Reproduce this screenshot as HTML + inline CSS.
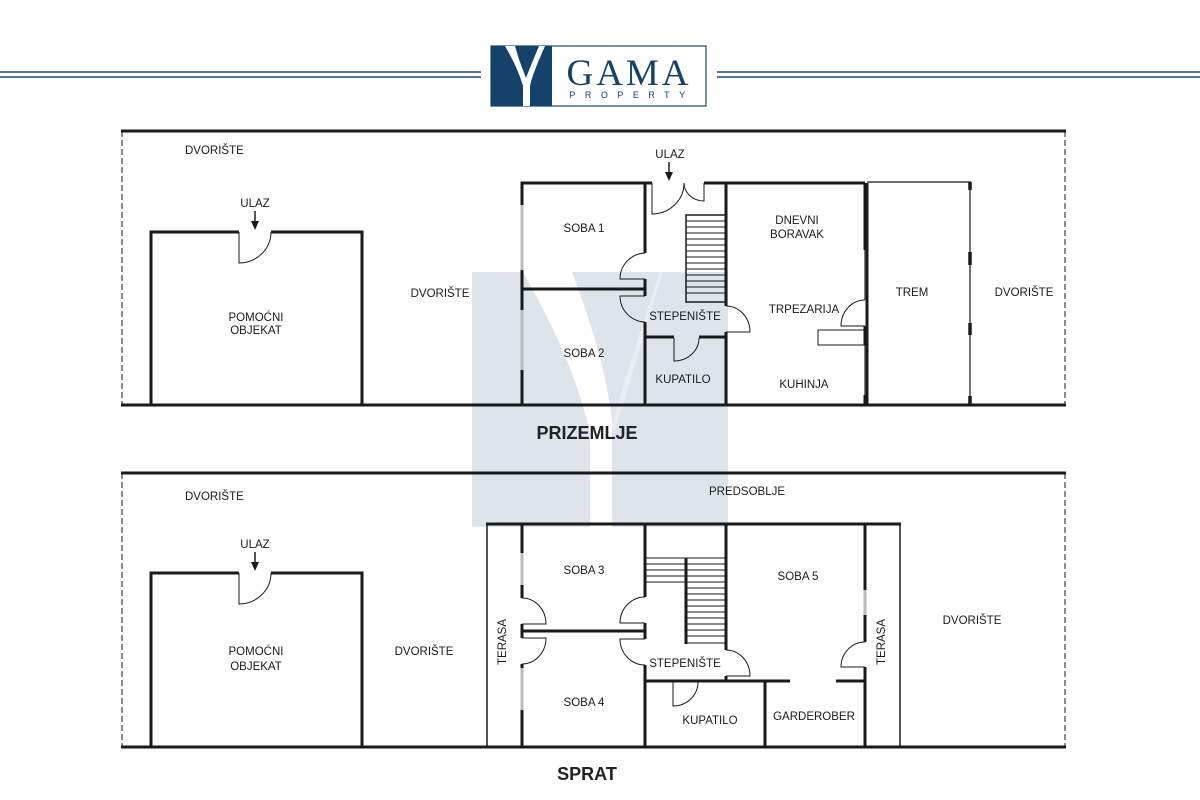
<!DOCTYPE html>
<html><head><meta charset="utf-8"><style>
html,body{margin:0;padding:0;background:#fff;width:1200px;height:800px;overflow:hidden}
svg{display:block}
text{font-family:"Liberation Sans","DejaVu Sans",sans-serif;fill:#1a1a1a}
</style></head><body>
<svg width="1200" height="800" viewBox="0 0 1200 800" xmlns="http://www.w3.org/2000/svg">
<g stroke="#1f4a6e" stroke-width="1.6">
<line x1="0" y1="72" x2="481" y2="72"/><line x1="0" y1="77" x2="481" y2="77"/>
<line x1="717" y1="72" x2="1200" y2="72"/><line x1="717" y1="77" x2="1200" y2="77"/>
</g>
<rect x="491" y="46" width="215" height="60" fill="#fff" stroke="#1f4a6e" stroke-width="1.2"/>
<rect x="491" y="46" width="61" height="60" fill="#14426b"/>
<path d="M505,46 L515,46 C520,64 524,72 526,78 C529,70 534,58 539,46 L545,46 C538,62 532,76 530,86 L530,106 L523,106 L523,86 C519,72 512,58 505,46 Z" fill="#fff"/>
<text x="629" y="85" text-anchor="middle" style="font-family:'Liberation Serif',serif;fill:#14426b" font-size="37" letter-spacing="3">GAMA</text>
<text x="632" y="98" text-anchor="middle" style="fill:#14426b" font-size="9" letter-spacing="9.5">PROPERTY</text>

<rect x="472" y="272" width="256" height="255" fill="#dfe4eb"/>
<path d="M523,272 L572,272 C590,320 606,370 612,420 L612,527 L590,527 L590,432 C575,370 550,320 523,272 Z" fill="#fff"/>
<path d="M612,425 C625,380 640,330 660,272 L663,272 C645,330 628,390 614,432 Z" fill="#fff" opacity="0.35"/>

<g fill="none" stroke="#1a1a1a">
<line x1="121" y1="131" x2="1066" y2="131" stroke-width="3"/>
<line x1="121" y1="405" x2="1066" y2="405" stroke-width="3"/>
<line x1="122" y1="131" x2="122" y2="405" stroke-width="1" stroke-dasharray="6,3"/>
<line x1="1065" y1="131" x2="1065" y2="405" stroke-width="1" stroke-dasharray="6,3"/>
<path d="M239,232 L151,232 L151,405 M362,405 L362,232 L271,232" stroke-width="3"/>
<path d="M239,232 L239,263 A32,31 0 0 0 271,232" stroke-width="1"/>
<path d="M652,183 L522,183 L522,405" stroke-width="3"/>
<path d="M704,183 L865,183" stroke-width="3"/>
<line x1="522" y1="205" x2="522" y2="270" stroke="#bbb" stroke-width="3"/>
<line x1="522" y1="310" x2="522" y2="370" stroke="#bbb" stroke-width="3"/>
<line x1="522" y1="289" x2="645" y2="289" stroke-width="3"/>
<path d="M645,183 L645,253 M645,279 L645,296 M645,322 L645,405" stroke-width="3"/>
<path d="M645,253 A26,26 0 0 0 620,279 L645,279" stroke-width="1"/>
<path d="M645,322 A26,26 0 0 1 620,296 L645,296" stroke-width="1"/>
<path d="M652,183 L652,214 A32,31 0 0 0 684,183" stroke-width="1"/>
<path d="M704,183 L704,201 A20,18 0 0 1 684,183" stroke-width="1"/>
<rect x="686" y="215" width="40" height="87" stroke-width="1.5"/>
<g stroke-width="1">
<line x1="686" y1="221" x2="726" y2="221"/><line x1="686" y1="227" x2="726" y2="227"/><line x1="686" y1="233" x2="726" y2="233"/><line x1="686" y1="239" x2="726" y2="239"/><line x1="686" y1="245" x2="726" y2="245"/><line x1="686" y1="251" x2="726" y2="251"/><line x1="686" y1="257" x2="726" y2="257"/><line x1="686" y1="263" x2="726" y2="263"/><line x1="686" y1="269" x2="726" y2="269"/><line x1="686" y1="275" x2="726" y2="275"/><line x1="686" y1="281" x2="726" y2="281"/><line x1="686" y1="287" x2="726" y2="287"/><line x1="686" y1="293" x2="726" y2="293"/>
</g>
<path d="M726,183 L726,306 M726,332 L726,405" stroke-width="3"/>
<path d="M726,306 A24,26 0 0 1 750,332 L726,332" stroke-width="1"/>
<path d="M645,337 L674,337 M699,337 L726,337" stroke-width="3"/>
<path d="M674,338 L674,361 A25,23 0 0 0 699,338" stroke-width="1"/>
<path d="M865,183 L865,250 M865,326 L865,345 M865,395 L865,405" stroke-width="3"/>
<line x1="865" y1="250" x2="865" y2="300" stroke="#555" stroke-width="1.5"/>
<line x1="865" y1="345" x2="865" y2="395" stroke="#555" stroke-width="1.5"/>
<path d="M865,300 A24,26 0 0 0 841,326 L865,326" stroke-width="1"/>
<rect x="818" y="330" width="47" height="15" stroke-width="1"/>
<line x1="867" y1="183" x2="867" y2="405" stroke-width="3"/>
<line x1="867" y1="182" x2="971" y2="182" stroke-width="1.2"/>
<line x1="970" y1="182" x2="970" y2="405" stroke-width="1.2"/>
<g stroke-width="3.5"><line x1="970" y1="182" x2="970" y2="190"/><line x1="970" y1="252" x2="970" y2="265"/><line x1="970" y1="323" x2="970" y2="335"/><line x1="970" y1="396" x2="970" y2="405"/></g>

<line x1="121" y1="473" x2="1066" y2="473" stroke-width="3"/>
<line x1="121" y1="747" x2="1066" y2="747" stroke-width="3"/>
<line x1="122" y1="473" x2="122" y2="747" stroke-width="1" stroke-dasharray="6,3"/>
<line x1="1065" y1="473" x2="1065" y2="747" stroke-width="1" stroke-dasharray="6,3"/>
<path d="M239,573 L151,573 L151,747 M362,747 L362,573 L271,573" stroke-width="3"/>
<path d="M239,573 L239,604 A32,31 0 0 0 271,573" stroke-width="1"/>
<line x1="486" y1="524" x2="901" y2="524" stroke-width="3"/>
<line x1="487" y1="524" x2="487" y2="747" stroke-width="1.5"/>
<line x1="900" y1="524" x2="900" y2="747" stroke-width="1.5"/>
<path d="M522,524 L522,598 M522,624 L522,638 M522,664 L522,747" stroke-width="3"/>
<line x1="522" y1="553" x2="522" y2="585" stroke="#bbb" stroke-width="3"/>
<line x1="522" y1="668" x2="522" y2="710" stroke="#bbb" stroke-width="3"/>
<path d="M522,598 A24,26 0 0 1 546,624 L522,624" stroke-width="1"/>
<path d="M522,664 A24,26 0 0 0 546,638 L522,638" stroke-width="1"/>
<line x1="522" y1="631" x2="645" y2="631" stroke-width="3"/>
<path d="M645,524 L645,597 M645,623 L645,639 M645,665 L645,747" stroke-width="3"/>
<path d="M645,597 A25,26 0 0 0 620,623 L645,623" stroke-width="1"/>
<path d="M645,665 A25,26 0 0 1 620,639 L645,639" stroke-width="1"/>
<g stroke-width="1">
<line x1="645" y1="558" x2="726" y2="558"/><line x1="645" y1="564" x2="726" y2="564"/><line x1="645" y1="570" x2="726" y2="570"/><line x1="645" y1="576" x2="726" y2="576"/><line x1="645" y1="582" x2="726" y2="582"/>
<line x1="686" y1="588" x2="726" y2="588"/><line x1="686" y1="594" x2="726" y2="594"/><line x1="686" y1="600" x2="726" y2="600"/><line x1="686" y1="606" x2="726" y2="606"/><line x1="686" y1="612" x2="726" y2="612"/><line x1="686" y1="618" x2="726" y2="618"/><line x1="686" y1="624" x2="726" y2="624"/><line x1="686" y1="630" x2="726" y2="630"/><line x1="686" y1="636" x2="726" y2="636"/><line x1="686" y1="643" x2="726" y2="643"/>
</g>
<line x1="686" y1="558" x2="686" y2="644" stroke-width="3"/>
<path d="M726,524 L726,650 M726,676 L726,681" stroke-width="3"/>
<path d="M726,650 A24,26 0 0 1 750,676 L726,676" stroke-width="1"/>
<path d="M645,681 L790,681 M836,681 L865,681" stroke-width="3"/>
<line x1="765" y1="681" x2="765" y2="747" stroke-width="3"/>
<path d="M673,682 L673,706 A25,24 0 0 0 698,682" stroke-width="1"/>
<path d="M865,524 L865,642 M865,667 L865,747" stroke-width="3"/>
<line x1="865" y1="590" x2="865" y2="615" stroke="#bbb" stroke-width="3"/>
<path d="M865,642 A24,25 0 0 0 841,667 L865,667" stroke-width="1"/>
</g>

<g stroke="#1a1a1a" stroke-width="1.5"><line x1="255" y1="211" x2="255" y2="222"/><line x1="669" y1="162" x2="669" y2="173"/><line x1="255" y1="552" x2="255" y2="563"/></g>
<g fill="#1a1a1a"><path d="M251,221 L259,221 L255,230 Z"/><path d="M665,172 L673,172 L669,181 Z"/><path d="M251,562 L259,562 L255,571 Z"/></g>

<g font-size="11.5">
<text x="185" y="154">DVORIŠTE</text>
<text x="255" y="207" text-anchor="middle">ULAZ</text>
<text x="670" y="158" text-anchor="middle">ULAZ</text>
<text x="256" y="321" text-anchor="middle">POMOĆNI</text>
<text x="256" y="334" text-anchor="middle">OBJEKAT</text>
<text x="440" y="297" text-anchor="middle">DVORIŠTE</text>
<text x="584" y="232" text-anchor="middle">SOBA 1</text>
<text x="584" y="357" text-anchor="middle">SOBA 2</text>
<text x="685" y="320" text-anchor="middle">STEPENIŠTE</text>
<text x="683" y="383" text-anchor="middle">KUPATILO</text>
<text x="797" y="224" text-anchor="middle">DNEVNI</text>
<text x="797" y="238" text-anchor="middle">BORAVAK</text>
<text x="804" y="313" text-anchor="middle">TRPEZARIJA</text>
<text x="804" y="388" text-anchor="middle">KUHINJA</text>
<text x="912" y="296" text-anchor="middle">TREM</text>
<text x="1024" y="296" text-anchor="middle">DVORIŠTE</text>
<text x="185" y="500">DVORIŠTE</text>
<text x="747" y="495" text-anchor="middle">PREDSOBLJE</text>
<text x="255" y="548" text-anchor="middle">ULAZ</text>
<text x="256" y="655" text-anchor="middle">POMOĆNI</text>
<text x="256" y="670" text-anchor="middle">OBJEKAT</text>
<text x="424" y="655" text-anchor="middle">DVORIŠTE</text>
<text x="584" y="574" text-anchor="middle">SOBA 3</text>
<text x="584" y="706" text-anchor="middle">SOBA 4</text>
<text x="685" y="667" text-anchor="middle">STEPENIŠTE</text>
<text x="710" y="724" text-anchor="middle">KUPATILO</text>
<text x="814" y="720" text-anchor="middle">GARDEROBER</text>
<text x="798" y="580" text-anchor="middle">SOBA 5</text>
<text x="972" y="624" text-anchor="middle">DVORIŠTE</text>
<text transform="translate(506,642) rotate(-90)" text-anchor="middle">TERASA</text>
<text transform="translate(885,642) rotate(-90)" text-anchor="middle">TERASA</text>
</g>
<text x="587" y="439" text-anchor="middle" font-size="18" font-weight="bold" style="fill:#222">PRIZEMLJE</text>
<text x="587" y="780" text-anchor="middle" font-size="18" font-weight="bold" style="fill:#222">SPRAT</text>
</svg>
</body></html>
